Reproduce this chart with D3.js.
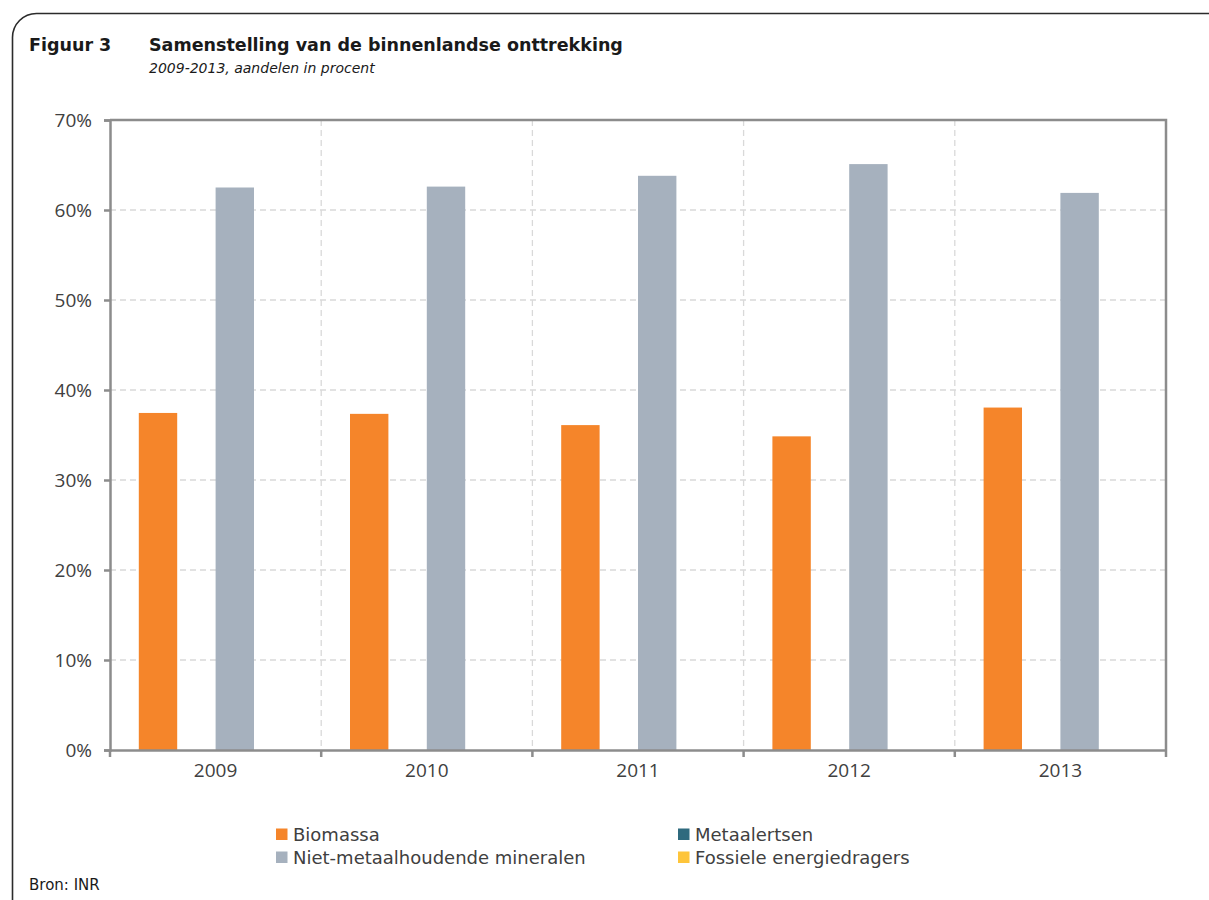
<!DOCTYPE html>
<html><head><meta charset="utf-8">
<script src="https://cdn.jsdelivr.net/npm/d3@7"></script>
<style>
html,body{margin:0;padding:0;background:#fff;}
svg{display:block;}
</style></head>
<body>
<svg id="c" width="1209" height="900"></svg>
<script>
const years = ["2009","2010","2011","2012","2013"];
const seriesNames = ["Biomassa","Metaalertsen","Niet-metaalhoudende mineralen","Fossiele energiedragers"];
const seriesColors = ["#F5852A","#2F6A7E","#A6B1BE","#FEC53B"];
const biomassa = [37.45, 37.35, 36.1, 34.85, 38.05];
const metaalertsen = [0, 0, 0, 0, 0];
const nietMetaal = [62.5, 62.6, 63.8, 65.1, 61.9];
const fossiel = [0, 0, 0, 0, 0];
const yTicks = [0,10,20,30,40,50,60,70];

const seriesValues = [biomassa, metaalertsen, nietMetaal, fossiel];
const svg = d3.select("#c");
const m = {left:110, right:1166, top:120, bottom:750};

// frame
svg.append("rect").attr("x",12.5).attr("y",13.5).attr("width",1250).attr("height",920)
  .attr("rx",24).attr("fill","none").attr("stroke","#2b2b2b").attr("stroke-width",1.6);

const x0 = d3.scaleBand().domain(years).range([m.left, m.right]).paddingInner(0).paddingOuter(0);
const x1 = d3.scaleBand().domain(seriesNames).range([0, x0.bandwidth()]).paddingInner(0).paddingOuter(0.75);
const y = d3.scaleLinear().domain([0,70]).range([m.bottom, m.top]);

// gridlines
svg.append("g").selectAll("line").data(yTicks.filter(d=>d>0 && d<70)).join("line")
  .attr("x1",m.left).attr("x2",m.right).attr("y1",d=>y(d)).attr("y2",d=>y(d))
  .attr("stroke","#d9d9d9").attr("stroke-width",1.3).attr("stroke-dasharray","6,4");
svg.append("g").selectAll("line").data(years.slice(1)).join("line")
  .attr("x1",d=>x0(d)).attr("x2",d=>x0(d)).attr("y1",m.top).attr("y2",m.bottom)
  .attr("stroke","#d9d9d9").attr("stroke-width",1.3).attr("stroke-dasharray","6,4");

// bars
const rows = [];
years.forEach((yr,i)=>seriesNames.forEach((s,j)=>rows.push({yr, s, v:seriesValues[j][i], c:seriesColors[j]})));
svg.append("g").selectAll("rect").data(rows.filter(r=>r.v>0)).join("rect")
  .attr("x",r=>x0(r.yr)+x1(r.s)).attr("width",x1.bandwidth())
  .attr("y",r=>y(r.v)).attr("height",r=>y(0)-y(r.v)).attr("fill",r=>r.c);

// plot border (top/right)
svg.append("path").attr("d",`M${m.left},${m.top}H${m.right}V${m.bottom}`)
  .attr("fill","none").attr("stroke","#8c8c8c").attr("stroke-width",2.5);

// y axis
const yAxis = d3.axisLeft(y).tickValues(yTicks).tickFormat(d=>d+"%").tickSize(6).tickPadding(12);
const gy = svg.append("g").attr("transform",`translate(${m.left},0)`).call(yAxis);
gy.select(".domain").attr("stroke","#8c8c8c").attr("stroke-width",2.5);
gy.selectAll(".tick line").attr("stroke","#8c8c8c").attr("stroke-width",2.5);
gy.selectAll("text").attr("font-family","'Open Sans'").attr("font-size",19).attr("fill","#404040");

// x axis
const xAxis = d3.axisBottom(x0).tickSize(0).tickPadding(14);
const gx = svg.append("g").attr("transform",`translate(0,${m.bottom})`).call(xAxis);
gx.select(".domain").attr("stroke","#8c8c8c").attr("stroke-width",2.5);
gx.selectAll("text").attr("font-family","'Open Sans'").attr("font-size",19).attr("fill","#404040");
svg.append("g").selectAll("line").data(years.concat(["end"])).join("line")
  .attr("x1",d=>d==="end"?m.right:x0(d)).attr("x2",d=>d==="end"?m.right:x0(d))
  .attr("y1",m.bottom).attr("y2",m.bottom+7).attr("stroke","#8c8c8c").attr("stroke-width",2.5);

// titles
const tf = "'DejaVu Sans'";
svg.append("text").attr("x",29).attr("y",51).text("Figuur 3")
  .attr("font-family",tf).attr("font-weight","bold").attr("font-size",17.5).attr("fill","#1a1a1a");
svg.append("text").attr("x",149).attr("y",51).text("Samenstelling van de binnenlandse onttrekking")
  .attr("font-family",tf).attr("font-weight","bold").attr("font-size",17.5).attr("fill","#1a1a1a");
svg.append("text").attr("x",149).attr("y",73).text("2009-2013, aandelen in procent")
  .attr("font-family",tf).attr("font-style","italic").attr("font-size",14).attr("fill","#1a1a1a");

// legend
const legPos = [[276,841],[678,841],[276,864],[678,864]];
const lg = svg.append("g").selectAll("g").data(seriesNames).join("g")
  .attr("transform",(d,i)=>`translate(${legPos[i][0]},${legPos[i][1]})`);
lg.append("rect").attr("x",0).attr("y",-12.5).attr("width",11.5).attr("height",11.5).attr("fill",(d,i)=>seriesColors[i]);
lg.append("text").attr("x",17).attr("y",0).text(d=>d)
  .attr("font-family",tf).attr("font-size",18).attr("fill","#404040");

// source
svg.append("text").attr("x",29).attr("y",890).text("Bron: INR")
  .attr("font-family",tf).attr("font-size",15).attr("fill","#1a1a1a");
</script>
</body></html>
